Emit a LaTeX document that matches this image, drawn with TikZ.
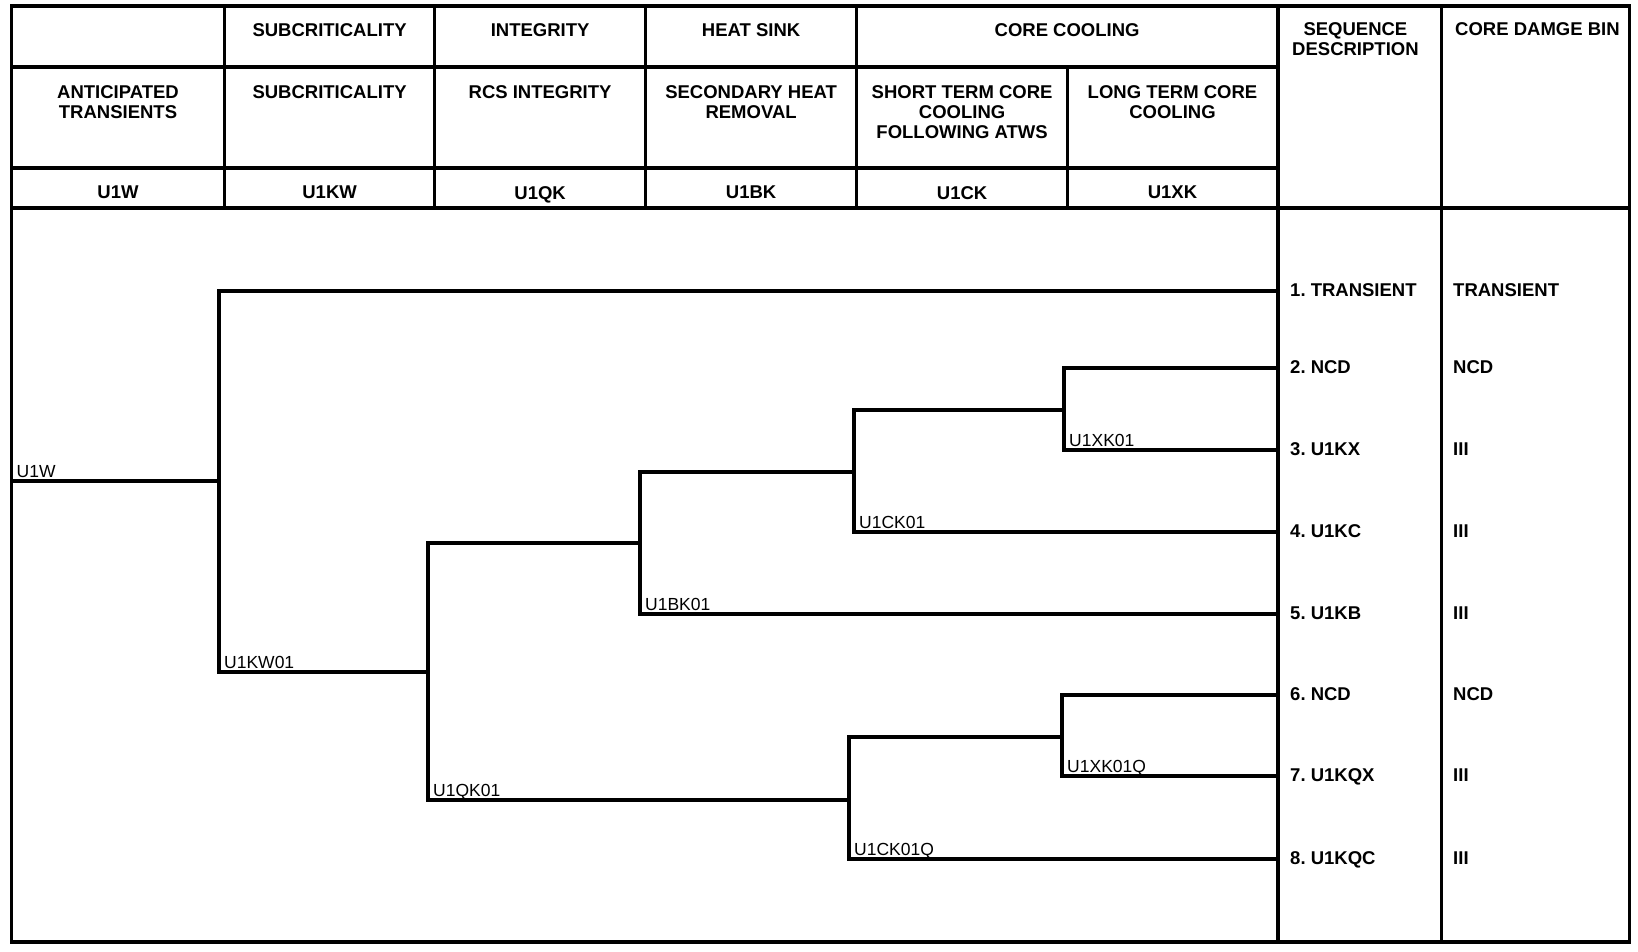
\documentclass[tikz,border=0pt]{standalone}
\usepackage{fontspec}
\setmainfont{Liberation Sans}
\usetikzlibrary{positioning}

\tikzset{
  grid/.style={line width=3.4pt},
  branch/.style={line width=3.1pt},
  head/.style={font=\fontsize{18.5}{20}\selectfont\bfseries, align=center, anchor=north, inner sep=0pt},
  tag/.style={font=\fontsize{17.5}{18}\selectfont, anchor=south west, inner xsep=5pt, inner ysep=3pt, text depth=0pt},
  seq/.style={font=\fontsize{18.5}{20}\selectfont\bfseries, anchor=base west, inner sep=0pt},
}

\begin{document}
\begin{tikzpicture}[x=1pt,y=-1pt]
\useasboundingbox (0,0) rectangle (1638,951);

% table frame
\draw[grid] (11.5,6) rectangle (1629.6,942);
\draw[grid] (11.5,67) -- (1277.5,67);
\draw[grid] (11.5,168) -- (1277.5,168);
\draw[grid] (11.5,208) -- (1629.6,208);
\foreach \x in {224.6,434.6,645.6,856.6}
  \draw[grid] (\x,6) -- (\x,208);
\draw[grid] (1067.6,67) -- (1067.6,208);
\draw[line width=4pt] (1277.5,6) -- (1277.5,942);
\draw[grid] (1441.5,6) -- (1441.5,942);

% header row 1
\node[head] (fSub) at (329.6,23.5) {SUBCRITICALITY};
\node[head] (fInt) at (540.1,23.5) {INTEGRITY};
\node[head] (fSink) at (751.1,23.5) {HEAT SINK};
\node[head] (fCool) at (1067.1,23.5) {CORE COOLING};
\node[head, anchor=north west] (fSeq) at (1292,22) {SEQUENCE\\DESCRIPTION};
\node[head, anchor=north west] (fBin) at (1455,22) {CORE DAMGE BIN};

% header row 2
\node[head] (tW) at (118,85) {ANTICIPATED\\TRANSIENTS};
\node[head] (tKW) at (329.6,85) {SUBCRITICALITY};
\node[head] (tQK) at (540.1,85) {RCS INTEGRITY};
\node[head] (tBK) at (751.1,85) {SECONDARY HEAT\\REMOVAL};
\node[head] (tCK) at (962.1,85) {SHORT TERM CORE\\COOLING\\FOLLOWING ATWS};
\node[head] (tXK) at (1172.5,85) {LONG TERM CORE\\COOLING};

% header row 3
\node[head] (cW) at (118,186) {U1W};
\node[head] (cKW) at (329.6,186) {U1KW};
\node[head] (cQK) at (540.1,186) {U1QK};
\node[head] (cBK) at (751.1,186) {U1BK};
\node[head] (cCK) at (962.1,186) {U1CK};
\node[head] (cXK) at (1172.5,186) {U1XK};

% branch points
\coordinate (start) at (11.5,481);
\coordinate (jW) at (219,481);
\coordinate (jKW) at (428,672);
\coordinate (jBK) at (640,543);
\coordinate (jCK) at (854,472);
\coordinate (jXK) at (1064,410);
\coordinate (jCKQ) at (849,800);
\coordinate (jXKQ) at (1062,737);
\foreach \n/\y in {1/291,2/368,3/450,4/532,5/614,6/695,7/776,8/859}
  \coordinate (e\n) at (1276,\y);

% event tree
\draw[branch] (start) -- (jW);
\draw[branch] (jW) |- (e1);
\draw[branch] (jW) |- (jKW);
\draw[branch] (jKW) |- (jBK);
\draw[branch] (jKW) |- (jCKQ);
\draw[branch] (jBK) |- (jCK);
\draw[branch] (jBK) |- (e5);
\draw[branch] (jCK) |- (jXK);
\draw[branch] (jCK) |- (e4);
\draw[branch] (jXK) |- (e2);
\draw[branch] (jXK) |- (e3);
\draw[branch] (jCKQ) |- (jXKQ);
\draw[branch] (jCKQ) |- (e8);
\draw[branch] (jXKQ) |- (e6);
\draw[branch] (jXKQ) |- (e7);

% failure branch tags
\node[tag] (gW) at (start) {U1W};
\node[tag] (gKW) at (jW |- jKW) {U1KW01};
\node[tag] (gQK) at (jKW |- jCKQ) {U1QK01};
\node[tag] (gBK) at (jBK |- e5) {U1BK01};
\node[tag] (gCK) at (jCK |- e4) {U1CK01};
\node[tag] (gXK) at (jXK |- e3) {U1XK01};
\node[tag] (gCKQ) at (jCKQ |- e8) {U1CK01Q};
\node[tag] (gXKQ) at (jXKQ |- e7) {U1XK01Q};

% sequences and bins
\foreach \n/\s/\b in {1/TRANSIENT/TRANSIENT,2/NCD/NCD,3/U1KX/III,4/U1KC/III,
    5/U1KB/III,6/NCD/NCD,7/U1KQX/III,8/U1KQC/III} {
  \node[seq] (s\n) at ([xshift=14pt,yshift=-5.5pt]e\n) {\n.\ \s};
  \node[seq] (b\n) at ([xshift=177pt,yshift=-5.5pt]e\n) {\b};
}
\end{tikzpicture}
\end{document}
